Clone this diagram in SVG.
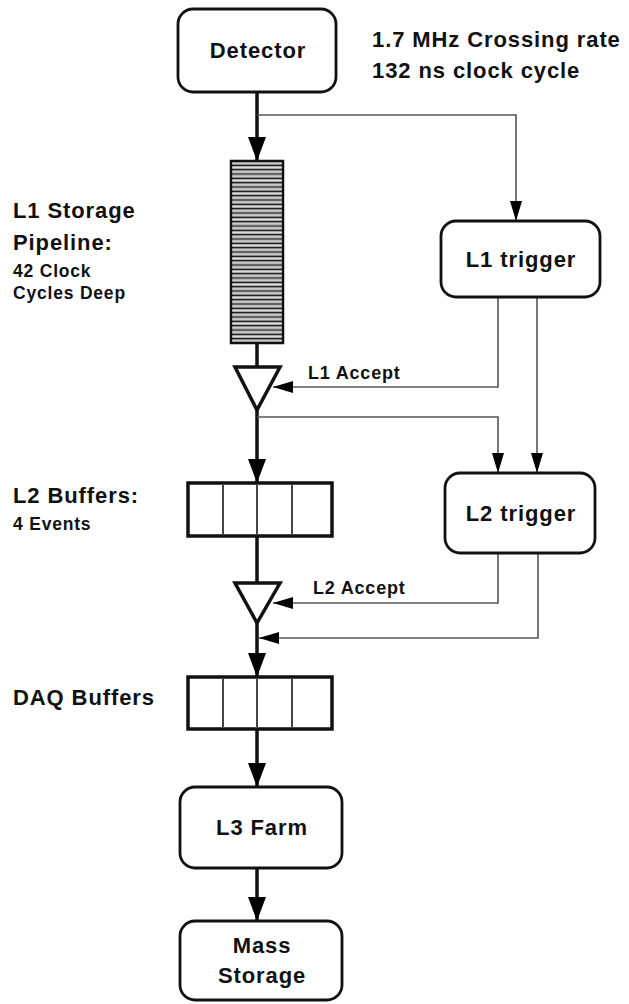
<svg xmlns="http://www.w3.org/2000/svg" width="629" height="1004" viewBox="0 0 629 1004">
<style>
.box{fill:#fff;stroke:#111;stroke-width:2.8}
.t{font-family:"Liberation Sans",Arial,sans-serif;font-weight:bold;fill:#111}
.big{font-size:22px;letter-spacing:0.9px}
.sm{font-size:17.5px;letter-spacing:0.8px}
.acc{font-size:18px;letter-spacing:0.8px}
.thick{fill:none;stroke:#111;stroke-width:3.5}
.thin{fill:none;stroke:#555;stroke-width:1.6}
.buf{fill:#fff;stroke:#111;stroke-width:3.5}
.div{stroke:#444;stroke-width:2}
</style>
<defs>
<marker id="ak" viewBox="0 0 24 18" markerWidth="24" markerHeight="18" refX="24" refY="9" orient="auto" markerUnits="userSpaceOnUse"><path d="M0,0 L24,9 L0,18 z" fill="#000"/></marker>
<marker id="an" viewBox="0 0 20 12" markerWidth="20" markerHeight="12" refX="20" refY="6" orient="auto" markerUnits="userSpaceOnUse"><path d="M0,0 L20,6 L0,12 z" fill="#000"/></marker>
</defs>
<g id="connectors">
<path class="thick" d="M257,92 V161" marker-end="url(#ak)"/>
<path class="thick" d="M257,343 V367"/>
<path class="thick" d="M257,410 V483" marker-end="url(#ak)"/>
<path class="thick" d="M257,536 V583"/>
<path class="thick" d="M257,623 V677" marker-end="url(#ak)"/>
<path class="thick" d="M257,729 V787" marker-end="url(#ak)"/>
<path class="thick" d="M257,868 V921" marker-end="url(#ak)"/>
<path class="thin" d="M257,115 H516 V221" marker-end="url(#an)"/>
<path class="thin" d="M498,297 V387 H273" marker-end="url(#an)"/>
<path class="thin" d="M257,417 H498 V473" marker-end="url(#an)"/>
<path class="thin" d="M537,297 V473" marker-end="url(#an)"/>
<path class="thin" d="M498,553 V603 H273" marker-end="url(#an)"/>
<path class="thin" d="M538,553 V638 H259" marker-end="url(#an)"/>
</g>
<g id="detector">
<rect class="box" x="178" y="9" width="158" height="83" rx="15"/>
<text class="t big" x="258" y="58" text-anchor="middle">Detector</text>
</g>
<g id="rate-label">
<text class="t big" x="372" y="47">1.7 MHz Crossing rate</text>
<text class="t big" x="372" y="78">132 ns clock cycle</text>
</g>
<g id="pipeline">
<rect x="231" y="161" width="52" height="182" fill="#a8a8a8" stroke="#111" stroke-width="2.5"/>
<path stroke="#f2f2f2" stroke-width="0.7" d="M232,163.2H282M232,167.5H282M232,171.8H282M232,176.2H282M232,180.5H282M232,184.8H282M232,189.2H282M232,193.5H282M232,197.8H282M232,202.2H282M232,206.5H282M232,210.8H282M232,215.2H282M232,219.5H282M232,223.8H282M232,228.2H282M232,232.5H282M232,236.8H282M232,241.2H282M232,245.5H282M232,249.8H282M232,254.2H282M232,258.5H282M232,262.8H282M232,267.2H282M232,271.5H282M232,275.8H282M232,280.2H282M232,284.5H282M232,288.8H282M232,293.2H282M232,297.5H282M232,301.8H282M232,306.2H282M232,310.5H282M232,314.8H282M232,319.2H282M232,323.5H282M232,327.8H282M232,332.2H282M232,336.5H282M232,340.8H282"/>
<path stroke="#222" stroke-width="1.2" d="M232,165.3H282M232,169.7H282M232,174H282M232,178.3H282M232,182.7H282M232,187H282M232,191.3H282M232,195.7H282M232,200H282M232,204.3H282M232,208.7H282M232,213H282M232,217.3H282M232,221.7H282M232,226H282M232,230.3H282M232,234.7H282M232,239H282M232,243.3H282M232,247.7H282M232,252H282M232,256.3H282M232,260.7H282M232,265H282M232,269.3H282M232,273.7H282M232,278H282M232,282.3H282M232,286.7H282M232,291H282M232,295.3H282M232,299.7H282M232,304H282M232,308.3H282M232,312.7H282M232,317H282M232,321.3H282M232,325.7H282M232,330H282M232,334.3H282M232,338.7H282"/>
<text class="t big" x="13" y="218">L1 Storage</text>
<text class="t big" x="13" y="250">Pipeline:</text>
<text class="t sm" x="13" y="277">42 Clock</text>
<text class="t sm" x="13" y="299">Cycles Deep</text>
</g>
<g id="l1-trigger">
<rect class="box" x="441" y="221" width="159" height="76" rx="15"/>
<text class="t big" x="521" y="267" text-anchor="middle">L1 trigger</text>
</g>
<g id="l1-gate">
<polygon points="235,367 280,367 257,410" fill="#fff" stroke="#111" stroke-width="3.5"/>
<text class="t acc" x="308" y="379">L1 Accept</text>
</g>
<g id="l2-buffers">
<rect class="buf" x="188" y="483" width="144" height="53"/>
<line class="div" x1="223" y1="485" x2="223" y2="534"/>
<line class="div" x1="257" y1="485" x2="257" y2="534"/>
<line class="div" x1="292" y1="485" x2="292" y2="534"/>
<text class="t big" x="13" y="503">L2 Buffers:</text>
<text class="t sm" x="13" y="530">4 Events</text>
</g>
<g id="l2-trigger">
<rect class="box" x="445" y="473" width="150" height="80" rx="15"/>
<text class="t big" x="521" y="521" text-anchor="middle">L2 trigger</text>
</g>
<g id="l2-gate">
<polygon points="235,583 280,583 257,623" fill="#fff" stroke="#111" stroke-width="3.5"/>
<text class="t acc" x="313" y="594">L2 Accept</text>
</g>
<g id="daq-buffers">
<rect class="buf" x="188" y="677" width="144" height="52"/>
<line class="div" x1="223" y1="679" x2="223" y2="727"/>
<line class="div" x1="257" y1="679" x2="257" y2="727"/>
<line class="div" x1="292" y1="679" x2="292" y2="727"/>
<text class="t big" x="13" y="705">DAQ Buffers</text>
</g>
<g id="l3-farm">
<rect class="box" x="180" y="787" width="162" height="81" rx="15"/>
<text class="t big" x="262" y="835" text-anchor="middle">L3 Farm</text>
</g>
<g id="mass-storage">
<rect class="box" x="180" y="921" width="162" height="79" rx="15"/>
<text class="t big" x="262" y="953" text-anchor="middle">Mass</text>
<text class="t big" x="262" y="983" text-anchor="middle">Storage</text>
</g>
</svg>
